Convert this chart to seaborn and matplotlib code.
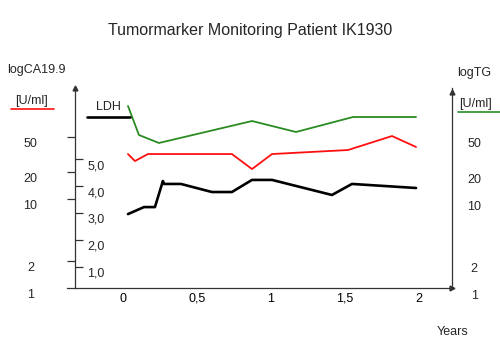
import matplotlib
matplotlib.use("Agg")
import matplotlib.pyplot as plt
import seaborn as sns
import pandas as pd
from matplotlib.lines import Line2D
from matplotlib.ticker import NullLocator

# ---------------- data ----------------
title = "Tumormarker Monitoring Patient IK1930"
x_ticks = [0, 0.5, 1, 1.5, 2]
x_ticklabels = ["0", "0,5", "1", "1,5", "2"]
log_ticks = [2, 10, 20, 50]
log_labels_vals = [1, 2, 10, 20, 50]
log_labels = ["1", "2", "10", "20", "50"]
ldh_ticks = [1, 2, 3, 4, 5]
ldh_ticklabels = ["1,0", "2,0", "3,0", "4,0", "5,0"]

ca_years = [0.034, 0.081, 0.169, 0.736, 0.872, 1.007, 1.520, 1.818, 1.980]
ca_values = [32.0, 26.7, 32.0, 32.0, 21.7, 32.0, 35.5, 51.0, 38.4]

tg_years = [0.034, 0.108, 0.243, 0.872, 1.169, 1.554, 1.980]
tg_values = [110.9, 52.4, 42.6, 75.2, 56.6, 83.4, 83.4]

ldh_years = [0.034, 0.142, 0.216, 0.270, 0.277, 0.392, 0.601, 0.736, 0.872,
             1.007, 1.412, 1.547, 1.980]
ldh_values = [2.96, 3.22, 3.22, 4.19, 4.08, 4.08, 3.78, 3.78, 4.23,
              4.23, 3.67, 4.08, 3.93]

# ---------------- style ----------------
sns.set_theme(style="white")
plt.rcParams["font.family"] = ["Liberation Sans", "DejaVu Sans"]

W, H = 500, 347
fig = plt.figure(figsize=(W / 100, H / 100), dpi=100)
ax = fig.add_axes([67 / W, 1 - 288 / H, 385 / W, 200 / H])

K = 89.0  # px per decade
ax.set_yscale("log")
ax.set_ylim(1, 10 ** (200 / K))
ax.set_xlim(-0.378, 2.223)
spine_x = -0.324

axis_col = "#333333"
ax.spines["top"].set_visible(False)
ax.spines["left"].set_position(("data", spine_x))
for s in ["left", "right", "bottom"]:
    ax.spines[s].set_color(axis_col)
    ax.spines[s].set_linewidth(0.9)

ax.set_yticks(log_ticks)
ax.yaxis.set_minor_locator(NullLocator())
ax.xaxis.set_minor_locator(NullLocator())
ax.tick_params(axis="y", which="major", left=True, right=True, direction="out",
               length=6, width=0.9, color=axis_col, labelleft=False, labelright=False)
ax.set_xticks(x_ticks, x_ticklabels)
ax.tick_params(axis="x", length=0, pad=3.5, labelsize=9, labelcolor="black")
ax.set_xlabel("")
ax.set_ylabel("")

sns.lineplot(x=tg_years, y=tg_values, ax=ax, color="#2a8c22", lw=1.3,
             estimator=None, sort=False)
sns.lineplot(x=ca_years, y=ca_values, ax=ax, color="#ff1010", lw=1.3,
             estimator=None, sort=False)

# LDH axis (linear)
ax2 = ax.twinx()
ax2.set_ylim(0.212, 7.647)
for s in ax2.spines.values():
    s.set_visible(False)
ax2.spines["left"].set_position(("data", spine_x))
ax2.yaxis.tick_left()
ax2.set_yticks(ldh_ticks)
ax2.yaxis.set_minor_locator(NullLocator())
ax2.tick_params(axis="y", direction="in", length=6, width=0.9, color=axis_col,
                labelleft=False, labelright=False, left=True, right=False)
sns.lineplot(x=ldh_years, y=ldh_values, ax=ax2, color="black", lw=1.9,
             estimator=None, sort=False)
ax2.set_ylabel("")

fs = 9
# log tick labels (left & right)
for v, lab in zip(log_labels_vals, log_labels):
    ax.annotate(lab, xy=(spine_x, v), xycoords="data", xytext=(-32, -5),
                textcoords="offset points", ha="center", va="center", fontsize=fs,
                annotation_clip=False)
    ax.annotate(lab, xy=(1, v), xycoords=("axes fraction", "data"), xytext=(16, -5.5),
                textcoords="offset points", ha="center", va="center", fontsize=fs,
                annotation_clip=False)
# LDH tick labels
for v, lab in zip(ldh_ticks, ldh_ticklabels):
    ax2.annotate(lab, xy=(spine_x, v), xycoords="data", xytext=(9, -5),
                 textcoords="offset points", ha="left", va="center", fontsize=fs,
                 annotation_clip=False)

# arrowheads
ax.plot([spine_x], [1.0], marker="^", ms=3.5, color=axis_col,
        transform=ax.get_xaxis_transform(), clip_on=False)
ax.plot([1.0], [0.98], marker="^", ms=3.5, color=axis_col,
        transform=ax.transAxes, clip_on=False)
ax.plot([1.0], [0.0], marker=">", ms=3.5, color=axis_col,
        transform=ax.transAxes, clip_on=False)

def ftext(x, y, s, size=fs, **kw):
    fig.text(x / W, 1 - y / H, s, ha="center", va="center", fontsize=size, **kw)

ftext(250, 30, title, size=11.5)
ftext(36, 70, "logCA19.9")
ftext(32, 101, "[U/ml]")
ftext(474, 73, "logTG")
ftext(476, 104, "[U/ml]")
ftext(108, 107, "LDH")
ftext(453, 332, "Years")

fig.add_artist(Line2D([11 / W, 54 / W], [1 - 109 / H] * 2, color="#ff1010", lw=1.2))
fig.add_artist(Line2D([458 / W, 500 / W], [1 - 112 / H] * 2, color="#2a8c22", lw=1.2))
fig.add_artist(Line2D([87 / W, 130 / W], [1 - 117 / H] * 2, color="black", lw=1.9))

fig.savefig("out.png", dpi=100)
